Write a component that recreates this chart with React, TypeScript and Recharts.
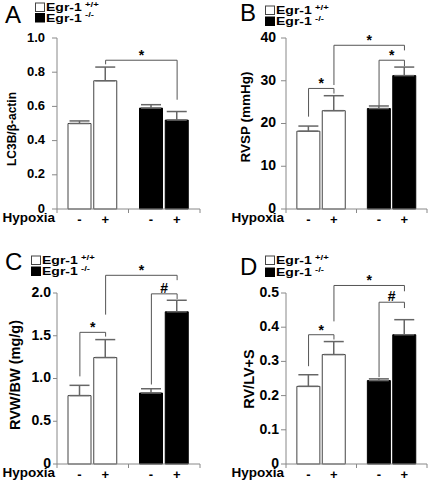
import React from 'react';
import { BarChart, Bar, XAxis, YAxis, ErrorBar, Cell, LabelList, ReferenceLine } from 'recharts';

// groups and conditions
const genotypes = ['Egr-1', 'Egr-1'];
const genotypeSups = ['+/+', '-/-'];
const hypoxiaMarks = ['-', '+'];

// [fromBar, toBar, fromY, toY, topY, mark]
type Bracket = [number, number, number, number, number, string];

// A: LC3B/β-actin
const lc3bMeans = [0.5, 0.75, 0.59, 0.52];
const lc3bSem = [0.015, 0.08, 0.02, 0.05];
const lc3bTicks = [0, 0.2, 0.4, 0.6, 0.8, 1.0];
const lc3bBrackets: Bracket[] = [[1, 3, 0.846, 0.639, 0.87, '*']];

// B: RVSP
const rvspMeans = [18.2, 23.0, 23.5, 31.2];
const rvspSem = [1.2, 3.5, 0.6, 2.0];
const rvspTicks = [0, 10, 20, 30, 40];
const rvspBrackets: Bracket[] = [
  [0, 1, 21.6, 27.0, 28.2, '*'],
  [2, 3, 24.1, 33.4, 34.8, '*'],
  [1, 3, 29.0, 37.1, 38.3, '*']
];

// C: RVW/BW
const rvwMeans = [0.8, 1.245, 0.83, 1.78];
const rvwSem = [0.12, 0.21, 0.05, 0.135];
const rvwTicks = [0, 0.5, 1.0, 1.5, 2.0];
const rvwBrackets: Bracket[] = [
  [0, 1, 1.025, 1.49, 1.54, '*'],
  [2, 3, 0.93, 1.93, 1.99, '#'],
  [1, 3, 1.747, 2.15, 2.207, '*']
];

// D: RV/LV+S
const rvlvMeans = [0.227, 0.32, 0.244, 0.378];
const rvlvSem = [0.034, 0.038, 0.005, 0.044];
const rvlvTicks = [0, 0.1, 0.2, 0.3, 0.4, 0.5];
const rvlvBrackets: Bracket[] = [
  [0, 1, 0.286, 0.364, 0.378, '*'],
  [2, 3, 0.254, 0.456, 0.473, '#'],
  [1, 3, 0.417, 0.505, 0.522, '*']
];

const W = 215;
const H = 243;
const SHIFT = 0.18; // bar offset from group centre, in group units
const AXIS = '#888';
const FONT = '"Liberation Sans", Arial, sans-serif';

const panels = [
  { letter: 'A', x: 0, y: 0, yLabel: 'LC3B/β-actin', means: lc3bMeans, sem: lc3bSem, ticks: lc3bTicks, brackets: lc3bBrackets, digits: 1,
    left: 57, right: 200, top: 38, bottom: 209, tickFont: 13, tickSize: 5, tickMargin: 7,
    labelX: 12, labelY: 129, labelFont: 12, letterX: 5, letterY: 23, legendX: 35, legendY: [7, 17.5] },
  { letter: 'B', x: 215, y: 0, yLabel: 'RVSP (mmHg)', means: rvspMeans, sem: rvspSem, ticks: rvspTicks, brackets: rvspBrackets, digits: 0,
    left: 71, right: 212, top: 38, bottom: 209, tickFont: 14, tickSize: 5, tickMargin: 5,
    labelX: 30, labelY: 117, labelFont: 13.5, letterX: 25, letterY: 21, legendX: 50, legendY: [10, 21] },
  { letter: 'C', x: 0, y: 243, yLabel: 'RVW/BW (mg/g)', means: rvwMeans, sem: rvwSem, ticks: rvwTicks, brackets: rvwBrackets, digits: 1,
    left: 57, right: 200, top: 50, bottom: 221, tickFont: 14, tickSize: 4, tickMargin: 2,
    labelX: 15, labelY: 132, labelFont: 14.5, letterX: 5, letterY: 27, legendX: 31, legendY: [17, 28] },
  { letter: 'D', x: 215, y: 243, yLabel: 'RV/LV+S', means: rvlvMeans, sem: rvlvSem, ticks: rvlvTicks, brackets: rvlvBrackets, digits: 1,
    left: 71, right: 212, top: 50, bottom: 221, tickFont: 14, tickSize: 5, tickMargin: 2,
    labelX: 34, labelY: 136, labelFont: 14.5, letterX: 25, letterY: 32, legendX: 50, legendY: [17, 29] }
];

const HypoxiaTick = (props: any) => {
  const { x, y, payload } = props;
  if (payload.value !== 0) return <g />;
  return (
    <text x={x - 2} y={y + 9} textAnchor="end" fontSize={13.5} fontWeight="bold" fill="#000">
      Hypoxia
    </text>
  );
};

function Panel({ p }: { p: (typeof panels)[number] }) {
  const rows = p.means.map((v, i) => {
    const g = Math.floor(i / 2);
    const h = i % 2;
    return {
      pos: g + 0.5 + (h === 0 ? -SHIFT : SHIFT),
      value: v,
      err: [0, p.sem[i]],
      genotype: g,
      hypoxia: hypoxiaMarks[h]
    };
  });
  const pos = rows.map((r) => r.pos);
  const line = { stroke: '#555', strokeWidth: 1, ifOverflow: 'visible' as const };

  return (
    <div style={{ position: 'absolute', left: p.x, top: p.y, width: W, height: H }}>
      <BarChart width={W} height={H} data={rows} margin={{ top: p.top, right: W - p.right, bottom: 0, left: 0 }}>
        <XAxis
          dataKey="pos"
          type="number"
          domain={[0, 2]}
          ticks={[0, 1, 2]}
          interval={0}
          height={H - p.bottom}
          tickSize={4}
          tickMargin={0}
          stroke={AXIS}
          tick={HypoxiaTick}
        />
        <YAxis
          width={p.left}
          domain={[0, p.ticks[p.ticks.length - 1]]}
          ticks={p.ticks}
          interval={0}
          tickSize={p.tickSize}
          tickMargin={p.tickMargin}
          stroke={AXIS}
          tick={{ fill: '#000', fontSize: p.tickFont, fontWeight: 'bold', dy: -1 }}
          tickFormatter={(v: number) => (v === 0 ? '0' : v.toFixed(p.digits))}
        />
        <Bar dataKey="value" barSize={23} isAnimationActive={false}>
          {rows.map((r, i) => (
            <Cell key={i} fill={r.genotype ? '#000' : '#fff'} stroke={r.genotype ? '#000' : '#444'} strokeWidth={1} />
          ))}
          <ErrorBar dataKey="err" width={10} stroke="#666" strokeWidth={1.5} isAnimationActive={false} />
          <LabelList dataKey="hypoxia" position="bottom" offset={6} fill="#000" fontSize={13} fontWeight="bold" />
        </Bar>
        {p.brackets.flatMap(([a, b, ya, yb, top, mark], k) => [
          <ReferenceLine key={`l${k}`} segment={[{ x: pos[a], y: ya }, { x: pos[a], y: top }]} {...line} />,
          <ReferenceLine
            key={`h${k}`}
            segment={[{ x: pos[a], y: top }, { x: pos[b], y: top }]}
            {...line}
            label={{ value: mark, position: 'top', offset: mark === '#' ? 1 : 0, fill: '#000', fontSize: 14, fontWeight: 'bold' }}
          />,
          <ReferenceLine key={`r${k}`} segment={[{ x: pos[b], y: yb }, { x: pos[b], y: top }]} {...line} />
        ])}
      </BarChart>
      <svg width={W} height={H} style={{ position: 'absolute', left: 0, top: 0, pointerEvents: 'none' }}>
        <text x={p.letterX} y={p.letterY} fontSize={24} fill="#000">{p.letter}</text>
        <text
          x={p.labelX}
          y={p.labelY}
          transform={`rotate(-90 ${p.labelX} ${p.labelY})`}
          textAnchor="middle"
          dominantBaseline="central"
          fontSize={p.labelFont}
          fontWeight="bold"
          fill="#000"
        >
          {p.yLabel}
        </text>
        {genotypes.map((g, i) => {
          const cy = p.legendY[i];
          return (
            <g key={i}>
              <rect x={p.legendX + 0.5} y={cy - 4} width={9} height={8.5} fill={i ? '#000' : '#fff'} stroke={i ? '#000' : '#444'} />
              <g transform={`translate(${p.legendX + 11} ${cy + 4}) scale(1 0.78)`}>
                <text x={0} y={0} fontSize={14} fontWeight="bold" fill="#000">{g}</text>
                <text x={39} y={-5.5} fontSize={9.5} fontWeight="bold" fill="#000">{genotypeSups[i]}</text>
              </g>
            </g>
          );
        })}
      </svg>
    </div>
  );
}

export default function App() {
  return (
    <div style={{ position: 'absolute', left: 0, top: 0, width: 430, height: 486, background: '#fff', fontFamily: FONT }}>
      {panels.map((p) => (
        <Panel key={p.letter} p={p} />
      ))}
    </div>
  );
}
